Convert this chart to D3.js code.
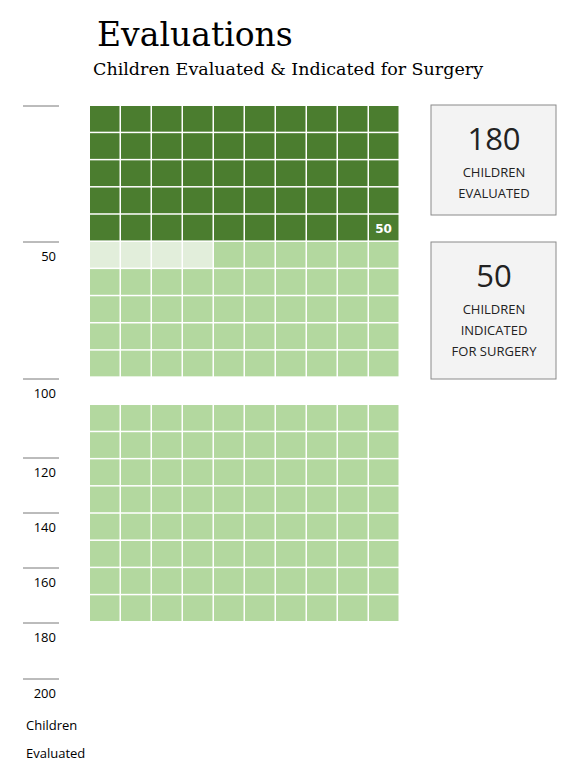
<!DOCTYPE html>
<html><head><meta charset="utf-8">
<script src="https://cdn.jsdelivr.net/npm/d3@7"></script>
<style>body{margin:0;background:#fff}</style></head>
<body><svg id="c" width="579" height="779"></svg>
<script>
const groups = ["Indicated for surgery", "Pending", "Evaluated, not indicated"];
const groupCounts = [50, 4, 126];
const groupColors = ["#4b7d2f", "#e2eedb", "#b3d89f"];
const tickValues = [0, 50, 100, 120, 140, 160, 180, 200];
const tickLabels = ["", "50", "100", "120", "140", "160", "180", "200"];
const tickPos = [106, 242, 379, 458, 513, 568, 623, 679];
const statValues = [180, 50];
const statLabels = [["CHILDREN","EVALUATED"],["CHILDREN","INDICATED","FOR SURGERY"]];

const svg = d3.select("#c");
svg.append("text").attr("x",97).attr("y",46).attr("font-family","DejaVu Serif, Georgia, serif").attr("font-size",33).attr("fill","#000").text("Evaluations");
svg.append("text").attr("x",93).attr("y",75).attr("font-family","DejaVu Serif, Georgia, serif").attr("font-size",17.5).attr("fill","#000").text("Children Evaluated & Indicated for Surgery");

// cells
const cells = [];
groups.forEach((g,i)=>{for(let k=0;k<groupCounts[i];k++) cells.push(i);});
const cols = 10;
const rowSlot = i => { const r = Math.floor(i/cols); return r >= 10 ? r+1 : r; };
const x = d3.scaleBand().domain(d3.range(cols)).range([90,400]).padding(0);
const y = d3.scaleBand().domain(d3.range(19)).range([106,622.5]).padding(0);
svg.append("g").selectAll("rect").data(cells).join("rect")
  .attr("x",(d,i)=>x(i%cols)).attr("y",(d,i)=>y(rowSlot(i)))
  .attr("width",x.bandwidth()-1.5).attr("height",y.bandwidth()-1.5)
  .attr("fill",d=>groupColors[d]);
svg.append("text").attr("x",x(9)+x.bandwidth()/2-1).attr("y",y(4)+y.bandwidth()/2+5)
  .attr("text-anchor","middle").attr("font-family","Verdana, DejaVu Sans, sans-serif").attr("font-weight","bold").attr("font-size",12).attr("fill","#fff").text(groupCounts[0]);

// left axis
const ya = d3.scaleLinear().domain(tickValues).range(tickPos);
const ax = svg.append("g");
tickValues.forEach((v,i)=>{
  ax.append("line").attr("x1",23).attr("x2",59).attr("y1",ya(v)).attr("y2",ya(v)).attr("stroke","#555").attr("stroke-width",0.8);
  ax.append("text").attr("x",56).attr("y",ya(v)+19).attr("text-anchor","end").attr("font-family","Open Sans, sans-serif").attr("font-size",13).attr("fill","#000").text(tickLabels[i]);
});
svg.append("text").attr("x",26).attr("y",730).attr("font-family","Open Sans, sans-serif").attr("font-size",13).text("Children");
svg.append("text").attr("x",26).attr("y",758).attr("font-family","Open Sans, sans-serif").attr("font-size",13).text("Evaluated");

// stat boxes
const boxes = [{y:105,h:110},{y:242,h:137}];
boxes.forEach((b,i)=>{
  const g = svg.append("g");
  g.append("rect").attr("x",431).attr("y",b.y).attr("width",125).attr("height",b.h).attr("fill","#f3f3f3").attr("stroke","#8a8a8a");
  g.append("text").attr("x",494).attr("y",b.y+45).attr("text-anchor","middle").attr("font-family","Open Sans, sans-serif").attr("font-size",31).attr("fill","#222").text(statValues[i]);
  statLabels[i].forEach((t,j)=>g.append("text").attr("x",494).attr("y",b.y+72+j*21).attr("text-anchor","middle").attr("font-family","Open Sans, sans-serif").attr("font-size",13).attr("fill","#222").text(t));
});
</script></body></html>
